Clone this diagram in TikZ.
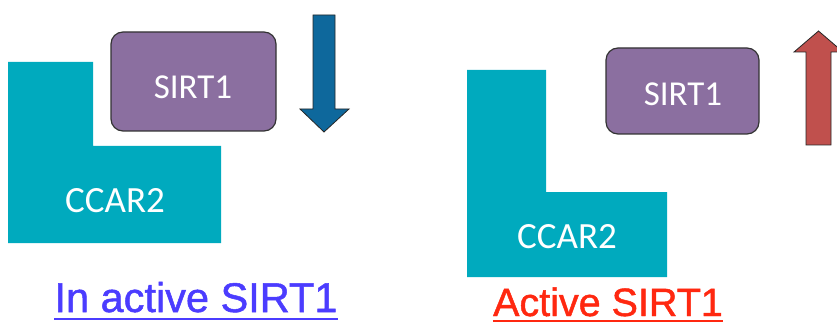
\documentclass[tikz,border=0pt]{standalone}
\usepackage{fontspec}
\setmainfont{Carlito}
\newfontfamily\labelfont[FakeBold=1.2]{Liberation Sans}
\definecolor{tealL}{RGB}{0,170,190}
\definecolor{purpleBox}{RGB}{139,111,160}
\definecolor{blueArrow}{RGB}{14,104,156}
\definecolor{redArrow}{RGB}{192,80,77}
\definecolor{blueText}{RGB}{75,60,255}
\definecolor{redText}{RGB}{255,40,16}
\tikzset{
  lshape/.style={fill=tealL, draw=none},
  sirtbox/.style={draw=black!80, line width=1.2pt, fill=purpleBox, rounded corners=12pt, inner sep=0pt},
  boxtext/.style={text=white, font=\fontsize{35}{40}\selectfont, inner sep=0pt},
  ltext/.style={text=white, font=\fontsize{37}{42}\selectfont, inner sep=0pt},
  arrowshape/.style={draw=black!85, line width=0.8pt, line join=miter},
  caption/.style={inner sep=0pt, anchor=base}
}
\begin{document}
\begin{tikzpicture}[x=1pt,y=-1pt]
\useasboundingbox (0,0) rectangle (837,323);
\clip (0,0) rectangle (837,323);
% left panel
\fill[lshape] (8,62) -- (93,62) -- (93,146) -- (221,146) -- (221,243) -- (8,243) -- cycle;
\node[ltext] (ccarL) at (115,201) {CCAR2};
\node[sirtbox, minimum width=165pt, minimum height=99pt] (sirtL) at (193.5,81.5) {};
\node[boxtext] (sirtLt) at (193,87) {SIRT1};
\draw[arrowshape, fill=blueArrow] (313,15) -- (335,15) -- (335,109) -- (349,109) -- (324,132) -- (300,109) -- (313,109) -- cycle;
\node[caption, text=blueText, font=\labelfont\fontsize{41.5}{46}\selectfont] (capL) at (196,312) {In active SIRT1};
\draw[blueText, line width=1.3pt] ([yshift=-7pt]capL.base west) -- ([yshift=-7pt]capL.base east);
% right panel
\fill[lshape] (467,70) -- (546,70) -- (546,192) -- (667,192) -- (667,277) -- (467,277) -- cycle;
\node[ltext] (ccarR) at (567,237) {CCAR2};
\node[sirtbox, minimum width=153pt, minimum height=86pt] (sirtR) at (682.5,91) {};
\node[boxtext] (sirtRt) at (683,94) {SIRT1};
\draw[arrowshape, fill=redArrow] (806,145) -- (831,145) -- (831,52) -- (843,52) -- (818.5,31) -- (794,52) -- (806,52) -- cycle;
\node[caption, text=redText, font=\labelfont\fontsize{39.5}{44}\selectfont] (capR) at (608,316) {Active SIRT1};
\draw[redText, line width=1.3pt] ([yshift=-5pt]capR.base west) -- ([yshift=-5pt]capR.base east);
\end{tikzpicture}
\end{document}
